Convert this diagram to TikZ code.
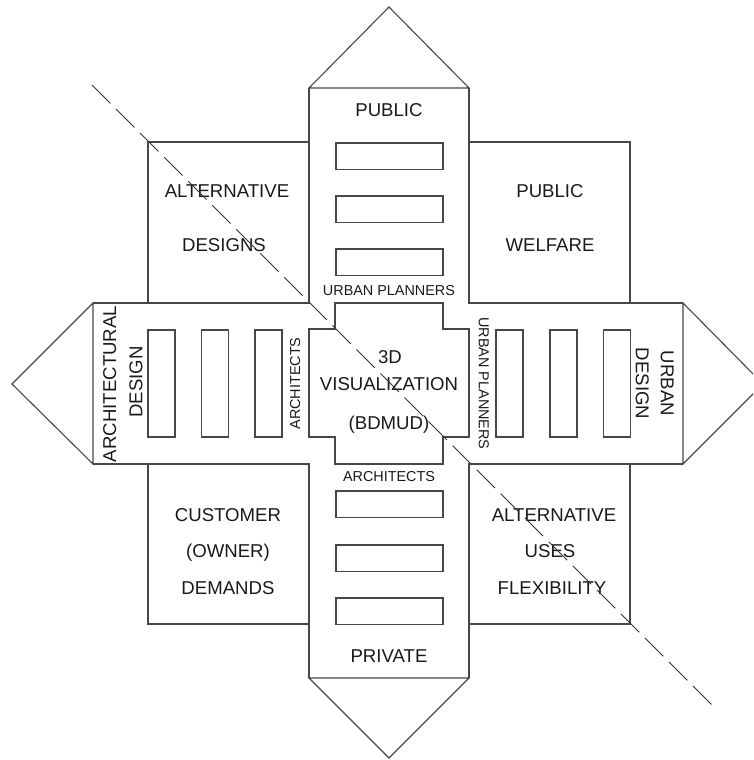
\documentclass[tikz,border=0pt]{standalone}
\usepackage{fontspec}
\setmainfont{Liberation Sans}
\begin{document}
\begin{tikzpicture}[x=1pt,y=-1pt,
  outline/.style={draw=black!72, line width=1.1pt, line join=miter},
  slot/.style={draw=black!72, line width=1.1pt},
  big/.style={font=\fontsize{18.6}{22}\selectfont, text=black!90, inner sep=0pt, text height=13.3pt, text depth=0pt},
  small/.style={font=\fontsize{14.4}{17}\selectfont, text=black!90, inner sep=0pt, text height=10.3pt, text depth=0pt},
  axis/.style={draw=black!80, line width=1pt, dash pattern=on 26pt off 8pt}]
\useasboundingbox (0,0) rectangle (753,760);
\clip (0,0) rectangle (753,760);

% arrow heads at the four ends of the cross
\draw[outline] (309,88) -- (389,7) -- (469,88) -- cycle;
\draw[outline] (309,678) -- (389,758) -- (469,678) -- cycle;
\draw[outline] (93,303) -- (12,384) -- (93,464) -- cycle;
\draw[outline] (683,303) -- (763,384) -- (683,464) -- cycle;

% arms of the cross
\draw[outline] (309,88) -- (309,303) -- (93,303);
\draw[outline] (469,88) -- (469,303) -- (683,303);
\draw[outline] (309,678) -- (309,464) -- (93,464);
\draw[outline] (469,678) -- (469,464) -- (683,464);

% corner squares
\draw[outline] (148,303) -- (148,142) -- (309,142);
\draw[outline] (469,142) -- (630,142) -- (630,303);
\draw[outline] (148,464) -- (148,624) -- (309,624);
\draw[outline] (469,624) -- (630,624) -- (630,464);

% central block with notched corners
\draw[outline] (335,303) -- (443,303) -- (443,329) -- (469,329) -- (469,437)
  -- (443,437) -- (443,464) -- (335,464) -- (335,437) -- (309,437)
  -- (309,329) -- (335,329) -- cycle;

% slots in each arm
\foreach \y in {143,196,249}
  \draw[slot] (336,\y) rectangle (443,\y+26.5);
\foreach \y in {491,545,598}
  \draw[slot] (336,\y) rectangle (443,\y+26.5);
\foreach \x in {148,201.5,255}
  \draw[slot] (\x,330) rectangle (\x+27,437);
\foreach \x in {496,550,603.5}
  \draw[slot] (\x,330) rectangle (\x+27,437);

% arm labels
\node[big] (pub) at (389,110.3) {PUBLIC};
\node[big] (priv) at (389,656.3) {PRIVATE};
\node[small] (upTop) at (389,290.3) {URBAN PLANNERS};
\node[small] (arBot) at (389,476) {ARCHITECTS};
\node[small,rotate=90] (arLeft) at (295,383.5) {ARCHITECTS};
\node[small,rotate=-90] (upRight) at (484,383.5) {URBAN PLANNERS};
\node[big,rotate=90] (archA) at (109.5,384) {ARCHITECTURAL};
\node[big,rotate=90] (archB) at (135.8,382) {DESIGN};
\node[big,rotate=-90] (urbA) at (667.5,383.5) {URBAN};
\node[big,rotate=-90] (urbB) at (642.5,383.5) {DESIGN};

% centre
\node[big] (c1) at (390,357) {3D};
\node[big] (c2) at (389,384) {VISUALIZATION};
\node[big] (c3) at (389,423) {(BDMUD)};

% corner square labels
\node[big] (ul1) at (227,191) {ALTERNATIVE};
\node[big] (ul2) at (224,245) {DESIGNS};
\node[big] (ur1) at (550,191) {PUBLIC};
\node[big] (ur2) at (550,245) {WELFARE};
\node[big] (ll1) at (228,515) {CUSTOMER};
\node[big] (ll2) at (228,551) {(OWNER)};
\node[big] (ll3) at (228,587.5) {DEMANDS};
\node[big] (lr1) at (554,515) {ALTERNATIVE};
\node[big] (lr2) at (550,551) {USES};
\node[big] (lr3) at (552,587.5) {FLEXIBILITY};

% dashed diagonal
\coordinate (axA) at (92,85);
\coordinate (axB) at (716,709);
\draw[axis] (axA) -- (axB);
\end{tikzpicture}
\end{document}
